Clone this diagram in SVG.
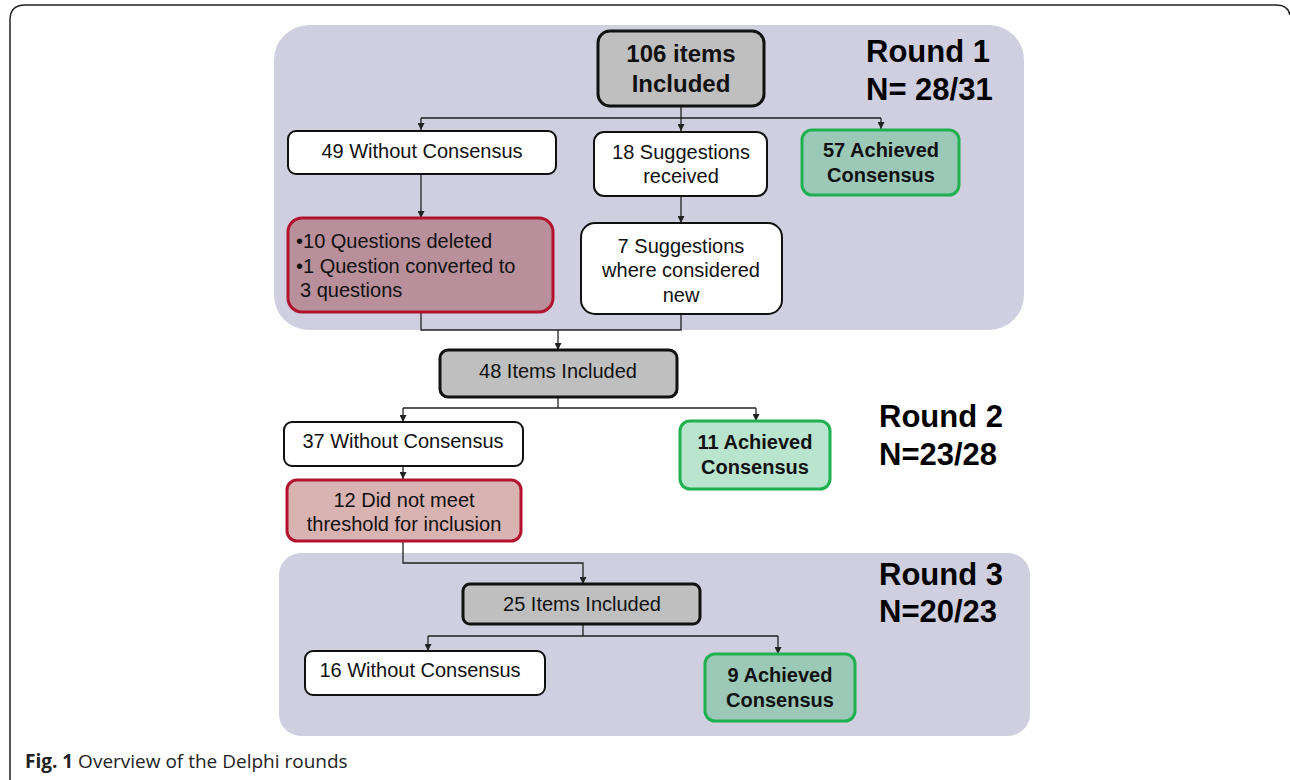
<svg xmlns="http://www.w3.org/2000/svg" width="1290" height="780" viewBox="0 0 1290 780">
<style>
.t{font-family:"Liberation Sans",Arimo,Arial,sans-serif;font-size:20px;fill:#111;text-anchor:middle}
.tb{font-family:"Liberation Sans",Arimo,Arial,sans-serif;font-size:20px;font-weight:bold;fill:#111;text-anchor:middle}
.big{font-family:"Liberation Sans",Arimo,Arial,sans-serif;font-size:24px;font-weight:bold;fill:#111;text-anchor:middle}
.rnd{font-family:"Liberation Sans",Arimo,Arial,sans-serif;font-size:31px;font-weight:bold;fill:#000}
.white{fill:#fff;stroke:#111;stroke-width:2}
.gray{fill:#bfbfbf;stroke:#111;stroke-width:3}
.dg{fill:#9cc8b8;stroke:#1fb04f;stroke-width:3}
.lg{fill:#b9e5cf;stroke:#1fb04f;stroke-width:3}
.r1{fill:#b88f9a;stroke:#b3122e;stroke-width:3}
.r2{fill:#d9b2b2;stroke:#b3122e;stroke-width:3}
.bg{fill:#cfcfdf}
.c{fill:none;stroke:#222;stroke-width:1.3}
.cap{font-family:"Open Sans","Liberation Sans",sans-serif;font-size:19px;fill:#222}
</style>
<defs>
<marker id="ah" viewBox="0 0 10 10" refX="10" refY="5" markerWidth="7" markerHeight="7" orient="auto" markerUnits="userSpaceOnUse">
<path d="M0,0 L10,5 L0,10 z" fill="#222"/>
</marker>
</defs>
<rect width="1290" height="780" fill="#fff"/>
<path d="M10,780 L10,20 Q10,5 25,5 L1276,5 Q1288,5 1290,15" fill="none" stroke="#222" stroke-width="1.5"/>
<g id="backgrounds">
<rect class="bg" x="274" y="25" width="750" height="305" rx="35"/>
<rect class="bg" x="279" y="553" width="751" height="183" rx="22"/>
</g>
<g id="round-labels">
<text class="rnd" x="866" y="62">Round 1</text>
<text class="rnd" x="866" y="100">N= 28/31</text>
<text class="rnd" x="879" y="427">Round 2</text>
<text class="rnd" x="879" y="465">N=23/28</text>
<text class="rnd" x="879" y="585">Round 3</text>
<text class="rnd" x="879" y="622">N=20/23</text>
</g>
<g id="connectors">
<path class="c" d="M681,107 V118 M421,118 H881"/>
<path class="c" d="M421,118 V130" marker-end="url(#ah)"/>
<path class="c" d="M681,118 V131" marker-end="url(#ah)"/>
<path class="c" d="M881,118 V129" marker-end="url(#ah)"/>
<path class="c" d="M421,174 V218" marker-end="url(#ah)"/>
<path class="c" d="M681,196 V223" marker-end="url(#ah)"/>
<path class="c" d="M421,312 V330 H681 V314"/>
<path class="c" d="M558,330 V350" marker-end="url(#ah)"/>
<path class="c" d="M558,397 V408 M403,408 H756"/>
<path class="c" d="M403,408 V422" marker-end="url(#ah)"/>
<path class="c" d="M756,408 V421" marker-end="url(#ah)"/>
<path class="c" d="M403,466 V479" marker-end="url(#ah)"/>
<path class="c" d="M403,541 V563 H583 V584" marker-end="url(#ah)"/>
<path class="c" d="M583,624 V636 M428,636 H778"/>
<path class="c" d="M428,636 V651" marker-end="url(#ah)"/>
<path class="c" d="M778,636 V654" marker-end="url(#ah)"/>
</g>
<g id="n106">
<rect class="gray" x="598" y="31" width="166" height="75" rx="12"/>
<text class="big" x="681" y="62">106 items</text>
<text class="big" x="681" y="92">Included</text>
</g>
<g id="n49">
<rect class="white" x="288" y="131" width="268" height="43" rx="8"/>
<text class="t" x="422" y="158">49 Without Consensus</text>
</g>
<g id="n18">
<rect class="white" x="594" y="132" width="173" height="64" rx="10"/>
<text class="t" x="681" y="159">18 Suggestions</text>
<text class="t" x="681" y="183">received</text>
</g>
<g id="n57">
<rect class="dg" x="802" y="130" width="157" height="65" rx="10"/>
<text class="tb" x="881" y="157">57 Achieved</text>
<text class="tb" x="881" y="182">Consensus</text>
</g>
<g id="nDeleted">
<rect class="r1" x="288" y="218" width="265" height="94" rx="14"/>
<text class="t" x="296" y="248" style="text-anchor:start">•10 Questions deleted</text>
<text class="t" x="296" y="273" style="text-anchor:start">•1 Question converted to</text>
<text class="t" x="300" y="297" style="text-anchor:start">3 questions</text>
</g>
<g id="n7">
<rect class="white" x="581" y="223" width="201" height="91" rx="14"/>
<text class="t" x="681" y="253">7 Suggestions</text>
<text class="t" x="681" y="277">where considered</text>
<text class="t" x="681" y="302">new</text>
</g>
<g id="n48">
<rect class="gray" x="440" y="350" width="237" height="47" rx="8"/>
<text class="t" x="558" y="378">48 Items Included</text>
</g>
<g id="n37">
<rect class="white" x="284" y="422" width="239" height="44" rx="8"/>
<text class="t" x="403" y="448">37 Without Consensus</text>
</g>
<g id="n11">
<rect class="lg" x="680" y="421" width="150" height="68" rx="10"/>
<text class="tb" x="755" y="449">11 Achieved</text>
<text class="tb" x="755" y="474">Consensus</text>
</g>
<g id="n12">
<rect class="r2" x="287" y="480" width="234" height="61" rx="10"/>
<text class="t" x="404" y="507">12 Did not meet</text>
<text class="t" x="404" y="531">threshold for inclusion</text>
</g>
<g id="n25">
<rect class="gray" x="463" y="584" width="237" height="40" rx="7"/>
<text class="t" x="582" y="611">25 Items Included</text>
</g>
<g id="n16">
<rect class="white" x="305" y="651" width="240" height="44" rx="8"/>
<text class="t" x="420" y="677">16 Without Consensus</text>
</g>
<g id="n9">
<rect class="dg" x="705" y="654" width="150" height="67" rx="10"/>
<text class="tb" x="780" y="682">9 Achieved</text>
<text class="tb" x="780" y="707">Consensus</text>
</g>
<text class="cap" x="25" y="768"><tspan font-weight="bold">Fig. 1</tspan> Overview of the Delphi rounds</text>
</svg>
